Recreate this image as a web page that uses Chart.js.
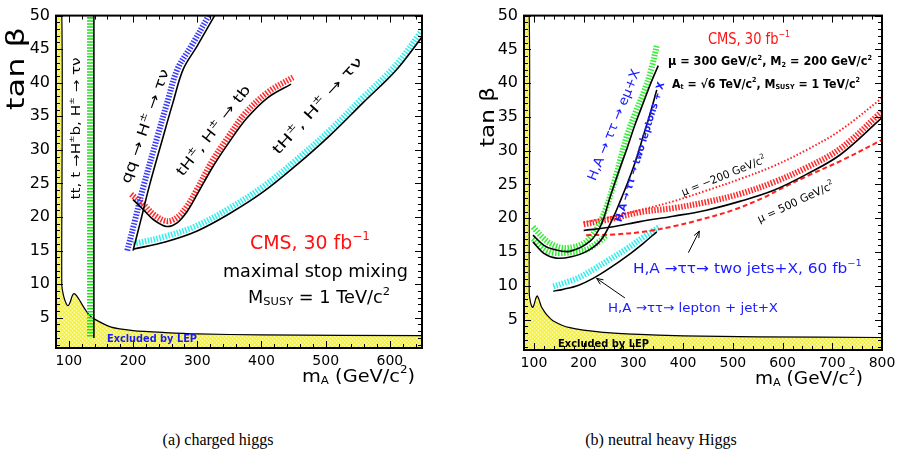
<!DOCTYPE html>
<html>
<head>
<meta charset="utf-8">
<script src="https://cdn.jsdelivr.net/npm/chart.js@4.4.0/dist/chart.umd.min.js"></script>
<style>
  body { margin: 0; background: #fff; width: 901px; height: 463px; position: relative; overflow: hidden; }
  canvas { position: absolute; top: 0; }
  #chartA { left: 0; }
  #chartB { left: 450px; }
  .cap { position: absolute; top: 430px; width: 300px; text-align: center; font: 16px "Liberation Serif", "DejaVu Serif", serif; color: #000; line-height: 20px; }
</style>
</head>
<body>
<canvas id="chartA" width="450" height="400"></canvas>
<canvas id="chartB" width="451" height="400"></canvas>
<div class="cap" style="left:68px">(a) charged higgs</div>
<div class="cap" style="left:511px">(b) neutral heavy Higgs</div>
<script>
const FONT = '"DejaVu Sans", "Liberation Sans", sans-serif';

// ---- (a) charged higgs : m_A (GeV/c2) vs tan beta ----
const xTicksA = [100, 200, 300, 400, 500, 600];
const yTicks = [5, 10, 15, 20, 25, 30, 35, 40, 45, 50];

const lepA_m = [80, 89, 89, 92, 96, 99, 102, 105, 108, 112, 118, 125, 132, 140, 166, 200, 250, 300, 400, 650];
const lepA_t = [50, 50, 10, 8.2, 7.1, 6.8, 7.3, 8.2, 8.6, 8.3, 7.4, 6.3, 5.4, 4.8, 3.6, 3.1, 2.8, 2.6, 2.45, 2.35];

// tt, t -> H+b
const ttBand_m = [133, 133];
const ttBand_t = [2.2, 50];
const ttLine_m = [139, 139];
const ttLine_t = [2, 50];

// qq -> H -> tau nu
const qqBand_m = [191, 203, 216, 238, 253, 269, 291, 318];
const qqBand_t = [15, 19.5, 24.5, 32, 37, 42, 45.5, 50];
const qqLine_m = [200, 212, 225, 247, 262, 278, 300, 327];
const qqLine_t = [15, 19.5, 24.5, 32, 37, 42, 45.5, 50];

// tH, H -> tb
const tbBand_m = [197, 216, 232, 252, 268, 284, 300, 323, 348, 375, 410, 449];
const tbBand_t = [23.4, 21.9, 20.4, 19.4, 19.9, 21.6, 24.2, 28.3, 31.9, 35.5, 38.6, 40.8];
const tbLine_m = [200, 216, 232, 252, 268, 284, 300, 325, 350, 377, 410, 446];
const tbLine_t = [22.6, 21.1, 19.6, 18.6, 19.1, 20.8, 23.4, 27.6, 31.2, 34.7, 37.8, 39.8];

// tH, H -> tau nu
const tnBand_m = [200, 250, 299, 350, 402, 454, 506, 558, 610, 650];
const tnBand_t = [16, 17.1, 18.7, 21.3, 24.5, 28.5, 32.9, 37.8, 42.7, 47.8];
const tnLine_m = [200, 250, 299, 350, 402, 454, 506, 558, 610, 650];
const tnLine_t = [15.2, 16.3, 17.9, 20.5, 23.7, 27.7, 32.1, 37, 41.9, 46.8];

// ---- (b) neutral heavy Higgs ----
const xTicksB = [100, 200, 300, 400, 500, 600, 700, 800];

const lepB_m = [80, 90.5, 90.5, 93, 97.4, 101, 104, 107, 110, 115, 120, 126, 139, 172, 239, 300, 400, 550, 800];
const lepB_t = [50, 50, 9, 7.6, 6.8, 7.4, 8.2, 8.5, 8.0, 6.9, 6.3, 5.7, 4.8, 3.8, 3.1, 2.85, 2.6, 2.45, 2.35];

// H,A -> tautau -> e mu + X
const emuBand_m = [98, 120, 140, 165, 200, 225, 245, 262, 287, 305, 320, 335, 347];
const emuBand_t = [18.7, 17, 16, 15.6, 16.3, 18.3, 21.5, 25.5, 32.2, 35.8, 38.5, 41.8, 45.5];
const emuLine_m = [98, 120, 139, 172, 213, 235, 253, 270, 287, 303, 320, 335, 350];
const emuLine_t = [17.5, 16, 15.4, 15.1, 16.6, 19, 23.1, 26.8, 30.3, 33.8, 37.1, 40, 42.6];

// H,A -> tautau -> two leptons + X
const llBand_m = [98, 120, 139, 166, 206, 230, 246];
const llBand_t = [17, 15.5, 14.9, 14.9, 15.4, 16.5, 17.5];
const llLine_m = [98, 120, 145, 175, 206, 235, 260, 275, 287, 305, 320, 335, 347];
const llLine_t = [16.5, 14.8, 14.1, 14.3, 15.1, 16.8, 20.2, 22.8, 25, 28.6, 32.2, 35.8, 39];

// H,A -> tautau -> two jets + X (60 fb-1), three mu values
const jjBand_m = [200, 256, 313, 380, 447, 514, 581, 648, 716, 800];
const jjBand_t = [19.1, 19.9, 20.9, 21.5, 22.4, 23.6, 25.3, 27.5, 30.3, 35.8];
const jjLine_m = [200, 256, 313, 380, 447, 514, 581, 648, 716, 800];
const jjLine_t = [18.2, 18.7, 19.5, 20.3, 21.2, 22.5, 24.1, 26.5, 29.4, 34.9];
const jjMuNeg_m = [200, 256, 313, 380, 447, 514, 581, 648, 716, 800];
const jjMuNeg_t = [19.4, 20.2, 21.2, 22.5, 24.1, 25.8, 27.7, 30.1, 33.0, 37.8];
const jjMu500_m = [205, 260, 320, 380, 430, 500, 560, 600, 660, 720, 800];
const jjMu500_t = [17.5, 17.6, 18.0, 18.8, 19.7, 21.2, 23, 24.5, 26.6, 28.6, 31.6];

// H,A -> tautau -> lepton + jet + X
const ljBand_m = [139, 160, 190, 219, 250, 287, 320, 354];
const ljBand_t = [9.9, 10.4, 11.2, 12.4, 13.8, 15.5, 17.2, 18.8];
const ljLine_m = [139, 160, 190, 219, 250, 287, 320, 347];
const ljLine_t = [9.2, 9.5, 10.1, 11.1, 12.5, 14.4, 16.3, 18.0];

// ---------------------------------------------------------------
const pts = (ms, ts) => ms.map((m, i) => ({x: m, y: ts[i]}));

function lepPattern() {
  const c = document.createElement('canvas');
  c.width = 4; c.height = 4;
  const p = c.getContext('2d');
  p.fillStyle = '#ffff00'; p.fillRect(0, 0, 4, 4);
  p.fillStyle = '#f2ee30';
  p.fillRect(0, 0, 1, 1); p.fillRect(2, 2, 1, 1);
  p.fillStyle = '#ffffb8';
  p.fillRect(2, 0, 1, 1); p.fillRect(0, 2, 1, 1);
  return p.createPattern(c, 'repeat');
}
const YELLOW = lepPattern();

const solid = (ms, ts) => ({data: pts(ms, ts), borderColor: '#000', borderWidth: 1.6, pointRadius: 0, tension: 0.35, fill: false, order: 1});
const band = (ms, ts, c) => ({data: pts(ms, ts), borderColor: c, borderWidth: 6, borderDash: [1.5, 1.5], pointRadius: 0, tension: 0.35, fill: false, order: 2});
const styled = (ms, ts, c, dash, w) => ({data: pts(ms, ts), borderColor: c, borderWidth: w, borderDash: dash, pointRadius: 0, tension: 0.35, fill: false, order: 1});
const lep = (ms, ts) => ({data: pts(ms, ts), borderColor: '#000', borderWidth: 1.2, backgroundColor: YELLOW, fill: 'origin', pointRadius: 0, tension: 0.25, order: 3});

function parse(s) {
  const out = [];
  s.split(/(\^\{[^}]*\}|_\{[^}]*\})/).forEach(p => {
    if (!p) return;
    if (p[0] === '^') out.push([p.slice(2, -1), 'sup']);
    else if (p[0] === '_') out.push([p.slice(2, -1), 'sub']);
    else out.push([p, 'n']);
  });
  return out;
}

function drawRich(ctx, o) {
  const parts = parse(o.s);
  const size = o.size;
  const fnt = k => `${o.weight || 'normal'} ${k === 'n' ? size : Math.round(size * 0.62)}px ${FONT}`;
  let w = 0;
  parts.forEach(([s, k]) => { ctx.font = fnt(k); w += ctx.measureText(s).width; });
  const sx = o.width ? o.width / w : 1;
  ctx.save();
  ctx.translate(o.x, o.y);
  if (o.rot) ctx.rotate(o.rot * Math.PI / 180);
  ctx.scale(sx, 1);
  ctx.fillStyle = o.color || '#000';
  ctx.textBaseline = 'middle';
  ctx.textAlign = 'left';
  let cx = o.align === 'left' ? 0 : -w / 2;
  parts.forEach(([s, k]) => {
    ctx.font = fnt(k);
    const dy = k === 'sup' ? -size * 0.36 : k === 'sub' ? size * 0.25 : 0;
    ctx.fillText(s, cx, dy);
    cx += ctx.measureText(s).width;
  });
  ctx.restore();
}

const framePlugin = {
  id: 'frame',
  afterDatasetsDraw(chart, args, opts) {
    const {ctx, chartArea: a, scales: {x, y}} = chart;
    ctx.save();
    ctx.strokeStyle = '#000';
    ctx.lineWidth = 1;
    ctx.beginPath();
    for (let v = Math.ceil(x.min / 20) * 20; v <= x.max; v += 20) {
      const px = Math.round(x.getPixelForValue(v)) + 0.5;
      const len = v % 100 === 0 ? 7 : 4;
      ctx.moveTo(px, a.bottom); ctx.lineTo(px, a.bottom - len);
      ctx.moveTo(px, a.top); ctx.lineTo(px, a.top + len);
    }
    for (let v = Math.ceil(y.min); v <= y.max; v++) {
      const py = Math.round(y.getPixelForValue(v)) + 0.5;
      const len = v % 5 === 0 ? 7 : 4;
      ctx.moveTo(a.left, py); ctx.lineTo(a.left + len, py);
      ctx.moveTo(a.right, py); ctx.lineTo(a.right - len, py);
    }
    ctx.stroke();
    ctx.lineWidth = 2;
    ctx.strokeRect(a.left, a.top, a.right - a.left, a.bottom - a.top);
    ctx.restore();
  }
};

const notesPlugin = {
  id: 'notes',
  afterDraw(chart, args, opts) {
    const {ctx, scales: {x, y}} = chart;
    (opts.items || []).forEach(it => {
      if (it.arrow) {
        const x1 = x.getPixelForValue(it.arrow[0]), y1 = y.getPixelForValue(it.arrow[1]);
        const x2 = x.getPixelForValue(it.arrow[2]), y2 = y.getPixelForValue(it.arrow[3]);
        const ang = Math.atan2(y2 - y1, x2 - x1);
        ctx.save();
        ctx.strokeStyle = '#000'; ctx.lineWidth = 1;
        ctx.beginPath();
        ctx.moveTo(x1, y1); ctx.lineTo(x2, y2);
        ctx.moveTo(x2 - 7 * Math.cos(ang - 0.4), y2 - 7 * Math.sin(ang - 0.4));
        ctx.lineTo(x2, y2);
        ctx.lineTo(x2 - 7 * Math.cos(ang + 0.4), y2 - 7 * Math.sin(ang + 0.4));
        ctx.stroke();
        ctx.restore();
        return;
      }
      const px = it.px !== undefined ? it.px : x.getPixelForValue(it.m);
      const py = it.py !== undefined ? it.py : y.getPixelForValue(it.t);
      drawRich(ctx, Object.assign({}, it, {x: px, y: py}));
    });
  }
};

function makeChart(id, cfg) {
  return new Chart(document.getElementById(id), {
    type: 'line',
    data: {datasets: cfg.datasets},
    options: {
      responsive: false,
      animation: false,
      layout: {padding: cfg.padding},
      plugins: {legend: {display: false}, tooltip: {enabled: false}, notes: {items: cfg.notes}},
      scales: {
        x: {
          type: 'linear', min: cfg.xMin, max: cfg.xMax,
          grid: {display: false, drawTicks: false, tickLength: 0},
          border: {display: false},
          ticks: {font: {family: FONT, size: 14}, color: '#000', padding: 5, maxRotation: 0, autoSkip: false},
          afterBuildTicks: s => { s.ticks = cfg.xTicks.map(v => ({value: v})); },
          afterFit: s => { s.height = cfg.xAxisH; }
        },
        y: {
          type: 'linear', min: 0.5, max: 50,
          grid: {display: false, drawTicks: false, tickLength: 0},
          border: {display: false},
          ticks: {font: {family: FONT, size: 16}, color: '#000', padding: 6, autoSkip: false},
          afterBuildTicks: s => { s.ticks = yTicks.map(v => ({value: v})); },
          afterFit: s => { s.width = cfg.yAxisW; }
        }
      }
    },
    plugins: [framePlugin, notesPlugin]
  });
}

makeChart('chartA', {
  xMin: 80, xMax: 650, xTicks: xTicksA, xAxisH: 52, yAxisW: 56,
  padding: {left: 0, top: 12, right: 28, bottom: 0},
  datasets: [
    solid(ttLine_m, ttLine_t),
    solid(qqLine_m, qqLine_t),
    solid(tbLine_m, tbLine_t),
    solid(tnLine_m, tnLine_t),
    band(ttBand_m, ttBand_t, '#22dd22'),
    band(qqBand_m, qqBand_t, '#3a3aff'),
    band(tbBand_m, tbBand_t, '#ff2a2a'),
    band(tnBand_m, tnBand_t, '#33eeee'),
    lep(lepA_m, lepA_t)
  ],
  notes: [
    {px: 17.5, py: 68.5, rot: -90, s: 'tan β', size: 24, width: 83},
    {px: 302, py: 377, align: 'left', s: 'm_{A} (GeV/c^{2})', size: 18, width: 113},
    {m: 112.7, t: 33.2, rot: -90, s: 'tt, t →H^{±}b, H^{±} → τν', size: 12, width: 142},
    {m: 220, t: 33.5, rot: -70.8, s: 'qq → H^{±} → τν', size: 14, width: 120},
    {m: 326, t: 32.8, rot: -52, s: 'tH^{±}, H^{±} → tb', size: 14, width: 111},
    {m: 488, t: 36.5, rot: -47.6, s: 'tH^{±}, H^{±} → τν', size: 14, width: 126},
    {m: 382, t: 16.0, align: 'left', s: 'CMS, 30 fb^{−1}', size: 19, width: 120, color: '#ff1010'},
    {m: 340, t: 11.7, align: 'left', s: 'maximal stop mixing', size: 17, width: 185},
    {m: 379, t: 7.9, align: 'left', s: 'M_{SUSY} = 1 TeV/c^{2}', size: 17, width: 142},
    {m: 159.4, t: 1.8, align: 'left', s: 'Excluded by LEP', size: 10, width: 90, weight: 'bold', color: '#1a1aff'}
  ]
});

makeChart('chartB', {
  xMin: 80, xMax: 800, xTicks: xTicksB, xAxisH: 50, yAxisW: 74,
  padding: {left: 0, top: 7, right: 19, bottom: 0},
  datasets: [
    solid(emuLine_m, emuLine_t),
    solid(llLine_m, llLine_t),
    solid(jjLine_m, jjLine_t),
    solid(ljLine_m, ljLine_t),
    styled(jjMuNeg_m, jjMuNeg_t, '#ff2020', [1.5, 2], 2),
    styled(jjMu500_m, jjMu500_t, '#ff2020', [5, 3], 2),
    band(emuBand_m, emuBand_t, '#33ee33'),
    band(llBand_m, llBand_t, '#33ee33'),
    band(jjBand_m, jjBand_t, '#ff2a2a'),
    band(ljBand_m, ljBand_t, '#33eeee'),
    lep(lepB_m, lepB_t)
  ],
  notes: [
    {px: 39, py: 117, rot: -90, s: 'tan β', size: 20, width: 60},
    {px: 305, py: 379, align: 'left', s: 'm_{A} (GeV/c^{2})', size: 18, width: 108},
    {m: 450, t: 46.4, align: 'left', s: 'CMS, 30 fb^{−1}', size: 15, width: 82, color: '#ff1010'},
    {m: 369.6, t: 43.1, align: 'left', s: 'μ = 300 GeV/c^{2}, M_{2} = 200 GeV/c^{2}', size: 12, width: 204, weight: 'bold'},
    {m: 377.7, t: 39.8, align: 'left', s: 'A_{t} = √6 TeV/c^{2}, M_{SUSY} = 1 TeV/c^{2}', size: 12, width: 188, weight: 'bold'},
    {m: 262, t: 33.8, rot: -67.8, s: 'H,A → ττ → eμ+X', size: 13, width: 119, color: '#1a1aff'},
    {m: 314, t: 29.8, rot: -72.8, s: 'H,A → ττ → two leptons + X', size: 10, width: 146, color: '#1a1aff', weight: 'bold'},
    {m: 482, t: 26.2, rot: -22, s: 'μ = −200 GeV/c^{2}', size: 11, width: 90},
    {m: 627, t: 22.3, rot: -25, s: 'μ = 500 GeV/c^{2}', size: 11, width: 83},
    {m: 299, t: 12.5, align: 'left', s: 'H,A →ττ→ two jets+X, 60 fb^{−1}', size: 14, width: 229, color: '#1a1aff'},
    {m: 249, t: 6.6, align: 'left', s: 'H,A →ττ→ lepton + jet+X', size: 13, width: 170, color: '#1a1aff'},
    {arrow: [410.5, 14.9, 432.6, 18.1]},
    {arrow: [283, 8.2, 226, 11.1]},
    {m: 148.4, t: 1.4, align: 'left', s: 'Excluded by LEP', size: 10, width: 91, weight: 'bold'}
  ]
});
</script>
</body>
</html>
